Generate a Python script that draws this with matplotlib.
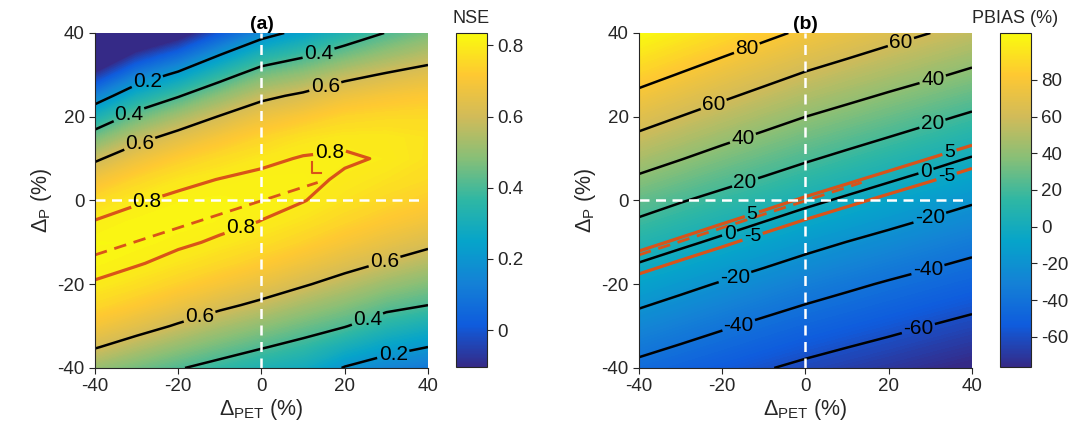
import numpy as np
import matplotlib
matplotlib.use('Agg')
import matplotlib.pyplot as plt
from matplotlib.colors import LinearSegmentedColormap, Normalize
from matplotlib.cm import ScalarMappable

plt.rcParams['font.family'] = ['Liberation Sans', 'DejaVu Sans']
plt.rcParams['mathtext.fontset'] = 'custom'
plt.rcParams['mathtext.rm'] = 'Liberation Sans'
plt.rcParams['mathtext.it'] = 'Liberation Sans:italic'
plt.rcParams['mathtext.bf'] = 'Liberation Sans:bold'
plt.rcParams['axes.unicode_minus'] = False
plt.rcParams['contour.negative_linestyle'] = 'solid'

# Grid of PET / P changes (%)
pet_change = [-40, -30, -20, -10, 0, 10, 20, 30, 40]
p_change_nse = [-40, -35, -30, -25, -20, -15, -10, -5, 0, 5, 10, 15, 20, 25, 30, 35, 40]
p_change_bias = [-40, -30, -20, -10, 0, 10, 20, 30, 40]

# NSE, one list per PET column (P from -40 to 40)
nse_by_pet = [
    [0.508, 0.607, 0.689, 0.752, 0.795, 0.819, 0.823, 0.803, 0.757, 0.684, 0.584, 0.459, 0.307, 0.128, -0.077, -0.308, -0.565],
    [0.456, 0.551, 0.642, 0.715, 0.769, 0.805, 0.822, 0.820, 0.794, 0.743, 0.668, 0.567, 0.442, 0.293, 0.118, -0.081, -0.305],
    [0.407, 0.498, 0.589, 0.670, 0.734, 0.781, 0.810, 0.823, 0.815, 0.782, 0.724, 0.639, 0.528, 0.392, 0.230, 0.041, -0.173],
    [0.364, 0.450, 0.536, 0.622, 0.696, 0.753, 0.792, 0.815, 0.820, 0.802, 0.761, 0.696, 0.606, 0.492, 0.354, 0.192, 0.006],
    [0.321, 0.407, 0.492, 0.578, 0.657, 0.720, 0.768, 0.799, 0.814, 0.813, 0.788, 0.741, 0.670, 0.575, 0.458, 0.317, 0.152],
    [0.285, 0.366, 0.447, 0.528, 0.610, 0.680, 0.736, 0.776, 0.802, 0.812, 0.804, 0.775, 0.707, 0.619, 0.503, 0.378, 0.240],
    [0.193, 0.300, 0.405, 0.483, 0.561, 0.636, 0.697, 0.744, 0.777, 0.793, 0.806, 0.790, 0.743, 0.670, 0.569, 0.447, 0.330],
    [0.141, 0.240, 0.339, 0.431, 0.511, 0.592, 0.659, 0.712, 0.751, 0.777, 0.796, 0.790, 0.754, 0.696, 0.610, 0.507, 0.404],
    [0.100, 0.200, 0.300, 0.400, 0.475, 0.550, 0.623, 0.682, 0.727, 0.758, 0.775, 0.777, 0.757, 0.712, 0.642, 0.553, 0.463],
]

# PBIAS (%), one list per P row (PET from -40 to 40)
pbias_by_p = [
    [-44.3, -49.4, -54.2, -58.9, -63.3, -67.2, -70.9, -74.8, -78.4],
    [-27.5, -32.9, -38.3, -43.5, -48.3, -52.4, -56.3, -60.3, -64.1],
    [-9.5, -15.6, -21.4, -26.9, -32.4, -37.1, -41.6, -45.7, -49.7],
    [8.8, 2.9, -3.0, -9.1, -15.0, -20.3, -25.2, -30.0, -34.6],
    [27.4, 21.0, 15.1, 9.4, 3.3, -2.3, -7.8, -13.1, -18.3],
    [47.3, 40.6, 33.9, 27.8, 21.8, 16.1, 10.4, 4.8, -0.9],
    [66.8, 59.8, 53.0, 46.4, 40.0, 34.6, 29.1, 23.4, 17.6],
    [86.1, 79.0, 72.0, 65.2, 58.5, 52.9, 47.5, 42.3, 36.9],
    [105.1, 98.1, 91.0, 84.0, 77.2, 71.4, 65.5, 60.0, 54.7],
]

# dashed orange line and small corner mark
ridge_pet = [-40, 13.5]
ridge_p = [-13.0, 4.3]
mark_pet = [12.1, 12.1, 14.2]
mark_p = [9.3, 6.5, 6.5]

nse_ticks = [0, 0.2, 0.4, 0.6, 0.8]
bias_ticks = [-60, -40, -20, 0, 20, 40, 60, 80]

parula = LinearSegmentedColormap.from_list('parula', [
    '#352a87', '#0f5cdd', '#1481d6', '#06a4ca', '#2eb7a4',
    '#87bf77', '#d1bb59', '#fec832', '#f9fb0e'])

orange = '#D95319'
dark = '#262626'

fig = plt.figure(figsize=(10.83, 4.37), dpi=100)
ax_a = fig.add_axes([0.0877, 0.158, 0.3075, 0.7665])
cax_a = fig.add_axes([0.4211, 0.160, 0.0286, 0.7645])
ax_b = fig.add_axes([0.590, 0.158, 0.3075, 0.7665])
cax_b = fig.add_axes([0.9234, 0.160, 0.0286, 0.7645])


def base_map(ax, x, y, z, norm):
    ax.contourf(x, y, z, levels=np.linspace(norm.vmin, norm.vmax, 150),
                cmap=parula, norm=norm, extend='both')


def add_labels(ax, cs, fmt, spots, size=15):
    texts = ax.clabel(cs, fmt=fmt, fontsize=size, inline=True, inline_spacing=2,
                      colors='k', manual=spots)
    for t in texts:
        t.set_rotation(0)


def finish(ax, cax, norm, ticks, cb_title, title):
    ax.axvline(0, color='white', lw=1.8, dashes=(4, 2.6))
    ax.axhline(0, xmax=0.98, color='white', lw=1.8, dashes=(4, 2.6))
    ax.set_xlim(-40, 40)
    ax.set_ylim(-40, 40)
    ax.set_xticks([-40, -20, 0, 20, 40])
    ax.set_yticks([-40, -20, 0, 20, 40])
    ax.tick_params(direction='out', length=4, width=0.8, labelsize=13.5,
                   colors=dark, top=False, right=False)
    for side in ['top', 'right']:
        ax.spines[side].set_visible(False)
    for side in ['left', 'bottom']:
        ax.spines[side].set_color(dark)
        ax.spines[side].set_linewidth(0.8)
    ax.set_xlabel(r'$\Delta_{\rm PET}$ (%)', fontsize=15.5, color=dark, labelpad=1)
    ax.set_ylabel(r'$\Delta_{\rm P}$ (%)', fontsize=15.5, color=dark, labelpad=2)
    ax.set_title(title, fontsize=14, fontweight='bold', pad=1)

    cb = fig.colorbar(ScalarMappable(norm=norm, cmap=parula), cax=cax, ticks=ticks)
    cb.outline.set_edgecolor(dark)
    cb.outline.set_linewidth(0.8)
    cax.tick_params(direction='out', length=4, width=0.8, labelsize=13.5, colors=dark)
    cax.set_title(cb_title, fontsize=13, pad=7, color=dark)


# ---- (a) NSE ----
nse = np.array(nse_by_pet).T
norm_a = Normalize(-0.104, 0.835)
base_map(ax_a, pet_change, p_change_nse, nse, norm_a)
cs = ax_a.contour(pet_change, p_change_nse, nse, levels=[0.2, 0.4, 0.6],
                  colors='k', linewidths=1.8)
add_labels(ax_a, cs, '%.1f',
           [(-27.3, 28), (-31.3, 19.3), (-29.3, 13.7), (13.7, 35.2),
            (15.3, 27.3), (-14.8, -28), (29.7, -15), (25.7, -29), (31.7, -37)])
cs8 = ax_a.contour(pet_change, p_change_nse, nse, levels=[0.8],
                   colors=orange, linewidths=2.3)
add_labels(ax_a, cs8, '%.1f', [(-27.7, 0.1), (16.3, 11.8), (-5.2, -6.3)])
ax_a.plot(ridge_pet, ridge_p, color=orange, lw=2, dashes=(4.5, 2.8))
ax_a.plot(mark_pet, mark_p, color=orange, lw=1.5)
finish(ax_a, cax_a, norm_a, nse_ticks, 'NSE', '(a)')
cax_a.set_yticklabels(['0', '0.2', '0.4', '0.6', '0.8'])

# ---- (b) PBIAS ----
pbias = np.array(pbias_by_p)
norm_b = Normalize(-76.5, 105.5)
base_map(ax_b, pet_change, p_change_bias, pbias, norm_b)
csb = ax_b.contour(pet_change, p_change_bias, pbias,
                   levels=[-60, -40, -20, 0, 20, 40, 60, 80],
                   colors='k', linewidths=1.8)
add_labels(ax_b, csb, '%d',
           [(-14.1, 36.4), (23, 37.6), (-22, 22.8), (30.6, 28.8),
            (-15, 14.75), (30.6, 18), (-14.5, 4.3), (-18.5, -7.0),
            (29.0, 6.8), (30.1, -4.9), (-17, -18.1), (29.3, -16.1),
            (-16.2, -29.3), (27.2, -30.9)])
cs5 = ax_b.contour(pet_change, p_change_bias, pbias, levels=[-5, 5],
                   colors=orange, linewidths=2.3)
add_labels(ax_b, cs5, '%d',
           [(34.5, 11.8), (34.0, 5.4), (-13.0, -2.9), (-12.5, -9.3)],
           size=14)
ax_b.plot(ridge_pet, ridge_p, color=orange, lw=2, dashes=(4.5, 2.8))
finish(ax_b, cax_b, norm_b, bias_ticks, 'PBIAS (%)', '(b)')

fig.savefig('out.png', dpi=100)
